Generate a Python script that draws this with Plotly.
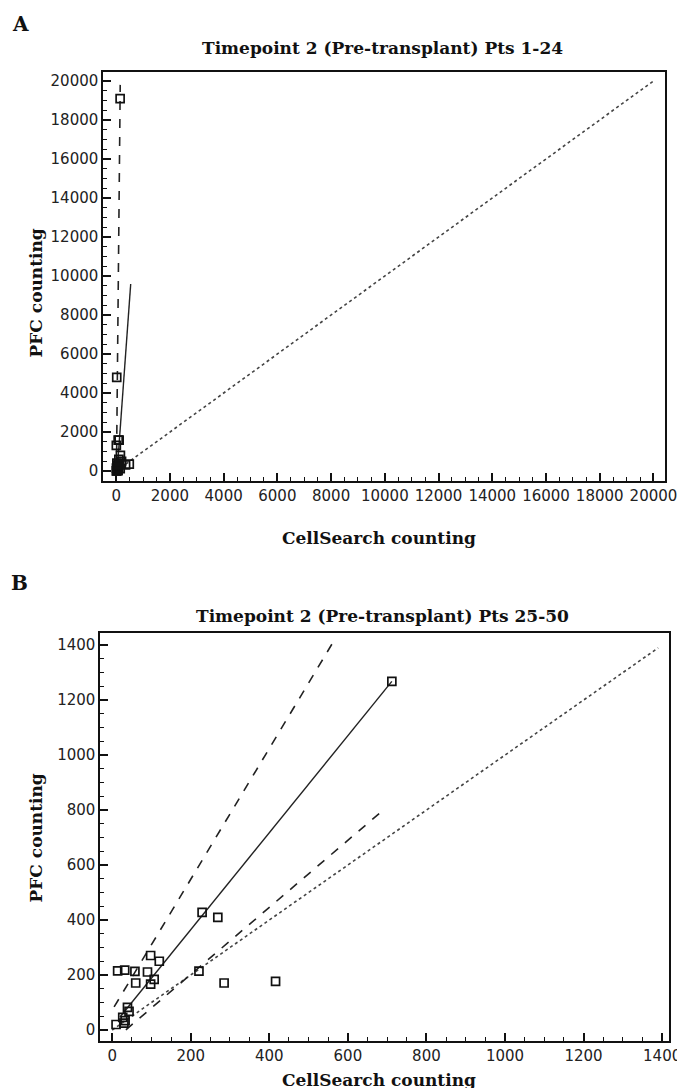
import plotly.graph_objects as go

# ---------------- Panel A data (Pts 1-24) ----------------
a_cellsearch = [146, 20, 73, 110, 5, 157, 100, 200, 40, 60, 487, 350, 10, 30, 50, 70, 20, 90, 150, 5, 40, 110, 25, 65]
a_pfc = [19100, 4800, 1590, 1590, 1320, 800, 600, 500, 300, 250, 360, 320, 150, 100, 50, 20, 10, 180, 120, 5, 60, 350, 410, 200]
a_identity = [0, 20000]
a_fit_x = [40, 540]
a_fit_slope, a_fit_intercept = 19.0, -670
a_upper_x = [10, 150]
a_upper_slope, a_upper_intercept = 141.0, -1350

# ---------------- Panel B data (Pts 25-50) ----------------
b_cellsearch = [10, 14, 32, 27, 33, 39, 43, 58, 60, 90, 98, 98, 107, 120, 221, 229, 269, 285, 416, 712, 30]
b_pfc = [20, 215, 218, 46, 34, 82, 68, 213, 171, 211, 271, 167, 184, 250, 214, 428, 410, 171, 177, 1268, 25]
b_identity = [0, 1390]
b_fit_x = [20, 712]
b_fit_slope, b_fit_intercept = 1.764, 12
b_upper_x = [5, 560]
b_upper_slope, b_upper_intercept = 2.38, 72
b_lower_x = [35, 688]
b_lower_slope, b_lower_intercept = 1.22, -42

a_ticks = list(range(0, 20001, 2000))
b_ticks = list(range(0, 1401, 200))

W, H = 685, 1088
TICKFONT = dict(family="DejaVu Sans", size=15, color="#222")
SERIF = "DejaVu Serif"


def line_y(xs, m, c):
    return [m * x + c for x in xs]


fig = go.Figure()


def add_panel(xs, ys, ident, fit, upper, lower, xa, ya, msize):
    fig.add_trace(go.Scatter(x=ident, y=ident, mode="lines", xaxis=xa, yaxis=ya,
                             line=dict(color="#444", width=1.6, dash="dot"), showlegend=False))
    for seg in (upper, lower):
        if seg is None:
            continue
        sx, m, c = seg
        fig.add_trace(go.Scatter(x=sx, y=line_y(sx, m, c), mode="lines", xaxis=xa, yaxis=ya,
                                 line=dict(color="#222", width=1.6, dash="dash"), showlegend=False))
    sx, m, c = fit
    fig.add_trace(go.Scatter(x=sx, y=line_y(sx, m, c), mode="lines", xaxis=xa, yaxis=ya,
                             line=dict(color="#222", width=1.4), showlegend=False))
    fig.add_trace(go.Scatter(x=xs, y=ys, mode="markers", xaxis=xa, yaxis=ya,
                             marker=dict(symbol="square-open", size=msize, color="#111",
                                         line=dict(width=1.7, color="#111")),
                             showlegend=False))


add_panel(a_cellsearch, a_pfc, a_identity, (a_fit_x, a_fit_slope, a_fit_intercept),
          (a_upper_x, a_upper_slope, a_upper_intercept), None, "x", "y", 8)
add_panel(b_cellsearch, b_pfc, b_identity, (b_fit_x, b_fit_slope, b_fit_intercept),
          (b_upper_x, b_upper_slope, b_upper_intercept),
          (b_lower_x, b_lower_slope, b_lower_intercept), "x2", "y2", 8)


def ax(domain, rng, ticks, minor, anchor):
    return dict(domain=domain, range=rng, tickvals=ticks, ticktext=[str(t) for t in ticks],
                ticks="inside", ticklen=8, tickwidth=1.5, tickcolor="#111",
                minor=dict(dtick=minor, ticks="inside", ticklen=4, tickwidth=1.2, tickcolor="#111", showgrid=False),
                showline=True, linecolor="#111", linewidth=2, mirror=True,
                showgrid=False, zeroline=False, tickfont=TICKFONT, anchor=anchor)


fig.update_layout(
    width=W, height=H, margin=dict(l=0, r=0, t=0, b=0),
    paper_bgcolor="white", plot_bgcolor="white",
    xaxis=ax([97 / W, 669 / W], [-480, 20440], a_ticks, 500, "y"),
    yaxis=ax([1 - 473 / H, 1 - 64 / H], [-510, 20460], a_ticks, 500, "x"),
    xaxis2=ax([94 / W, 673 / W], [-30, 1418], b_ticks, 50, "y2"),
    yaxis2=ax([1 - 1033 / H, 1 - 625 / H], [-40, 1444], b_ticks, 50, "x2"),
)

ann = []


def txt(t, x, y, size, angle=0):
    ann.append(dict(text=t, x=x / W, y=1 - y / H, xref="paper", yref="paper", showarrow=False,
                    xanchor="center", yanchor="middle", textangle=angle,
                    font=dict(family=SERIF, size=size, color="#111")))


txt("<b>A</b>", 13, 16, 20)
txt("<b>B</b>", 12, 575, 20)
txt("<b>Timepoint 2 (Pre-transplant) Pts 1-24</b>", 381, 40, 17)
txt("<b>Timepoint 2 (Pre-transplant) Pts 25-50</b>", 381, 608, 17)
txt("<b>CellSearch counting</b>", 378, 530, 17)
txt("<b>CellSearch counting</b>", 378, 1072, 17)
txt("<b>PFC counting</b>", 28, 285, 17, -90)
txt("<b>PFC counting</b>", 28, 830, 17, -90)
fig.update_layout(annotations=ann)

fig.write_html("out.html")
